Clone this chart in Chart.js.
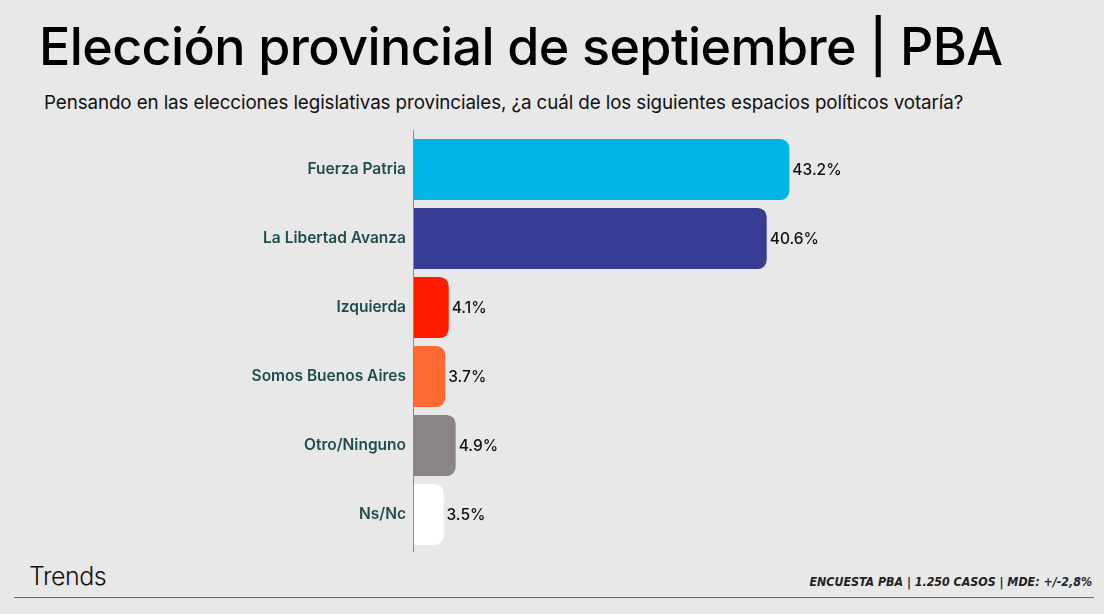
<!DOCTYPE html>
<html lang="es">
<head>
    <meta charset="UTF-8">
    <title>Elección provincial de septiembre | PBA</title>
    <script src="https://cdn.jsdelivr.net/npm/chart.js"></script>
    <style>
        body {
            margin: 0;
            width: 1104px;
            height: 614px;
            background: #e8e8e8;
            font-family: 'Inter', sans-serif;
            position: relative;
            overflow: hidden;
        }

        h1 {
            position: absolute;
            left: 39px;
            top: 15px;
            margin: 0;
            font-size: 52px;
            font-weight: 500;
            letter-spacing: -0.6px;
            color: #000;
        }

        .subtitle {
            position: absolute;
            left: 44px;
            top: 91px;
            margin: 0;
            font-size: 18.8px;
            letter-spacing: -0.1px;
            color: #111;
        }

        .chart-box {
            position: absolute;
            left: 0;
            top: 130px;
            width: 900px;
            height: 424px;
        }

        .logo {
            position: absolute;
            left: 29px;
            top: 561px;
            font-size: 25px;
            font-weight: 300;
            color: #111;
            letter-spacing: -0.5px;
        }

        .nota {
            position: absolute;
            right: 12px;
            top: 575px;
            font-family: 'DejaVu Sans Condensed', 'DejaVu Sans', sans-serif;
            font-size: 12.3px;
            font-style: italic;
            font-weight: bold;
            color: #222;
        }

        .linea {
            position: absolute;
            left: 14px;
            top: 597px;
            width: 1080px;
            height: 1px;
            background: #666;
        }
    </style>
</head>
<body>
    <h1>Elección provincial de septiembre | PBA</h1>
    <p class="subtitle">Pensando en las elecciones legislativas provinciales, ¿a cuál de los siguientes espacios políticos votaría?</p>
    <div class="chart-box"><canvas id="grafico"></canvas></div>
    <div class="logo">Trends</div>
    <div class="nota">ENCUESTA PBA | 1.250 CASOS | MDE: +/-2,8%</div>
    <div class="linea"></div>

    <script>
        const espacios = ["Fuerza Patria", "La Libertad Avanza", "Izquierda", "Somos Buenos Aires", "Otro/Ninguno", "Ns/Nc"];
        const porcentajes = [43.2, 40.6, 4.1, 3.7, 4.9, 3.5];
        const colores = ["#00b4e6", "#373c94", "#ff1a00", "#ff6a33", "#8a8584", "#ffffff"];

        // etiquetas de valor y linea del eje
        const extras = {
            id: "extras",
            afterDatasetsDraw(chart) {
                const ctx = chart.ctx;
                const area = chart.chartArea;
                ctx.save();
                ctx.strokeStyle = "#8a8a8a";
                ctx.lineWidth = 1;
                ctx.beginPath();
                ctx.moveTo(area.left + 0.5, area.top - 5);
                ctx.lineTo(area.left + 0.5, area.bottom + 3);
                ctx.stroke();

                ctx.fillStyle = "#111";
                ctx.font = "500 15.5px Inter";
                ctx.textAlign = "left";
                ctx.textBaseline = "middle";
                chart.getDatasetMeta(0).data.forEach((bar, i) => {
                    ctx.fillText(porcentajes[i].toFixed(1) + "%", bar.x + 3, bar.y + 1);
                });
                ctx.restore();
            }
        };

        new Chart(document.getElementById("grafico"), {
            type: "bar",
            data: {
                labels: espacios,
                datasets: [{
                    data: porcentajes,
                    backgroundColor: colores,
                    borderRadius: 9,
                    borderSkipped: "start",
                    barPercentage: 0.885,
                    categoryPercentage: 1
                }]
            },
            options: {
                indexAxis: "y",
                responsive: true,
                maintainAspectRatio: false,
                animation: false,
                layout: { padding: { top: 5, bottom: 5, left: 0, right: 0 } },
                plugins: {
                    legend: { display: false },
                    tooltip: { enabled: false }
                },
                scales: {
                    x: {
                        display: false,
                        min: 0,
                        max: 55.9
                    },
                    y: {
                        afterFit: scale => {
                            scale.width = 413;
                            scale.paddingTop = 0;
                            scale.paddingBottom = 0;
                        },
                        grid: { display: false, drawTicks: false },
                        border: { display: false },
                        ticks: {
                            color: "#1f4d4e",
                            padding: 7,
                            font: { family: "Inter", size: 15.5, weight: "600" }
                        }
                    }
                }
            },
            plugins: [extras]
        });
    </script>
</body>
</html>
